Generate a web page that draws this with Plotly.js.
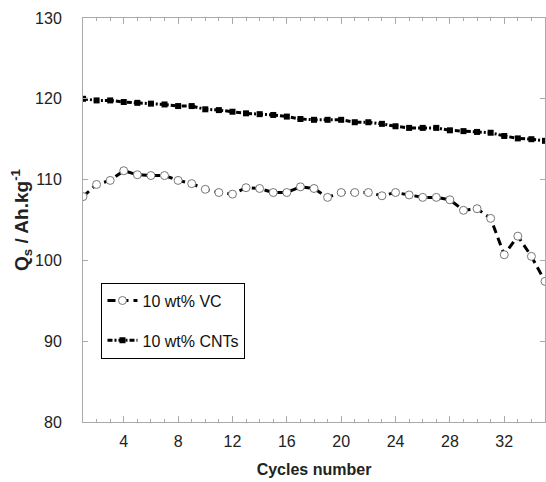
<!DOCTYPE html>
<html><head><meta charset="utf-8">
<script src="https://cdn.plot.ly/plotly-3.0.1.min.js"></script>
<style>html,body{margin:0;padding:0;background:#fff}</style>
</head><body>
<div id="chart" style="width:546px;height:482px"></div>
<script>
const cycles = [1,2,3,4,5,6,7,8,9,10,11,12,13,14,15,16,17,18,19,20,21,22,23,24,25,26,27,28,29,30,31,32,33,34,35];
const vcValues = [107.9,109.4,109.9,111.1,110.6,110.5,110.5,109.9,109.5,108.8,108.4,108.2,109.0,108.9,108.4,108.4,109.1,108.9,107.8,108.4,108.4,108.4,108.0,108.4,108.1,107.8,107.8,107.5,106.2,106.4,105.2,100.7,103.0,100.5,97.4];
const cntValues = [120.0,119.8,119.8,119.6,119.5,119.4,119.3,119.1,119.1,118.7,118.6,118.4,118.2,118.1,118.0,117.8,117.5,117.4,117.4,117.4,117.1,117.1,116.9,116.6,116.4,116.4,116.4,116.1,116.0,115.9,115.8,115.4,115.1,115.0,114.8];
const seriesNames = ['10 wt% VC','10 wt% CNTs'];

const traces = [
  {x: cycles, y: vcValues, name: seriesNames[0], mode: 'lines+markers', legendgroup: 'a',
   line: {color: '#000', width: 3, dash: '8px,5px'},
   marker: {symbol: 'circle', size: 8, color: '#fff', line: {color: '#777', width: 1}}},
  {x: cycles, y: cntValues, name: seriesNames[1], mode: 'lines+markers', legendgroup: 'b',
   line: {color: '#000', width: 3, dash: '5px,2px,2px,2px'},
   marker: {symbol: 'square', size: 6, color: '#000'}}
];

const axisCommon = {
  showline: true, linecolor: '#aaa', linewidth: 1, mirror: 'allticks',
  ticks: 'inside', tickcolor: '#aaa', ticklen: 6, tickwidth: 1,
  showgrid: false, zeroline: false,
  tickfont: {family: 'Arial, Liberation Sans, sans-serif', size: 16, color: '#222'}
};

const layout = {
  width: 546, height: 482,
  margin: {l: 83, r: 1, t: 18, b: 60},
  paper_bgcolor: '#fff', plot_bgcolor: '#fff',
  showlegend: true,
  legend: {x: 0.04, y: 0.345, xanchor: 'left', yanchor: 'top',
    bordercolor: '#000', borderwidth: 1, bgcolor: '#fff',
    traceorder: 'grouped', tracegroupgap: 16,
    font: {family: 'Arial, Liberation Sans, sans-serif', size: 16, color: '#111'}},
  xaxis: Object.assign({}, axisCommon, {
    range: [1, 35], tick0: 0, dtick: 4, ticklabelstandoff: 5,
    minor: {dtick: 1, tick0: 0, ticks: 'inside', ticklen: 3, tickcolor: '#aaa'},
    title: {text: 'Cycles number', standoff: 14,
      font: {family: 'Arial, Liberation Sans, sans-serif', size: 16, color: '#222', weight: 'bold'}}
  }),
  yaxis: Object.assign({}, axisCommon, {
    range: [80, 130], dtick: 10, ticklen: 5, ticklabelstandoff: 17,
    title: {text: 'Q<sub>s</sub> / Ah.kg<sup>-1</sup>', standoff: 0,
      font: {family: 'Arial, Liberation Sans, sans-serif', size: 19, color: '#222', weight: 'bold'}}
  })
};

Plotly.newPlot('chart', traces, layout, {displayModeBar: false, staticPlot: true});
</script>
</body></html>
